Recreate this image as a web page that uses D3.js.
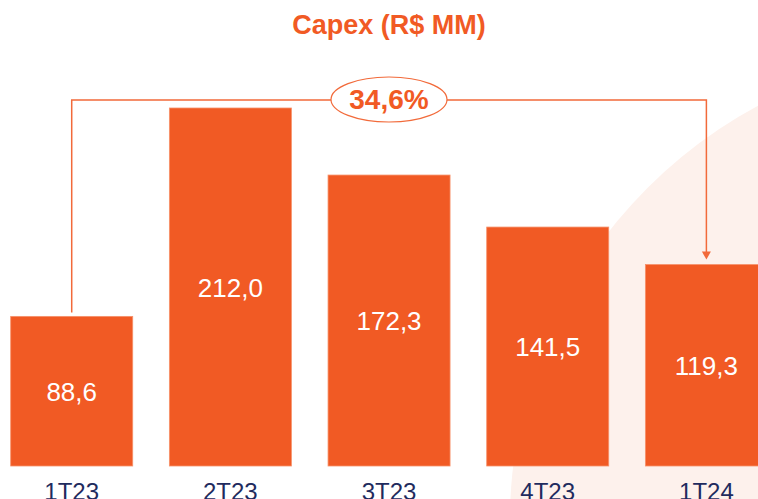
<!DOCTYPE html>
<html>
<head>
<meta charset="utf-8">
<script src="https://cdn.jsdelivr.net/npm/d3@7"></script>
<style>
  html, body { margin: 0; padding: 0; background: #fff; overflow: hidden; }
  svg { display: block; }
</style>
</head>
<body>
<svg id="chart" width="758" height="499"></svg>
<script>
const categories = ["1T23", "2T23", "3T23", "4T23", "1T24"];
const values = [88.6, 212.0, 172.3, 141.5, 119.3];
const valueLabels = ["88,6", "212,0", "172,3", "141,5", "119,3"];
const titleText = "Capex (R$ MM)";
const growthLabel = "34,6%";

const W = 758, H = 499;
const orange = "#F15A24";
const lineColor = "#F26A3A";
const navy = "#1F2B5E";

const svg = d3.select("#chart");

// light decorative background shape
svg.append("circle")
  .attr("cx", 980).attr("cy", 520).attr("r", 470)
  .attr("fill", "#FDF1EC");

const x = d3.scaleBand()
  .domain(categories)
  .range([10.7, 767.4])
  .paddingInner(0.231)
  .paddingOuter(0);

const y = d3.scaleLinear()
  .domain([0, 212])
  .range([466, 108]);

// bars
svg.append("g").selectAll("rect")
  .data(categories)
  .join("rect")
  .attr("x", d => x(d))
  .attr("y", (d, i) => y(values[i]))
  .attr("width", x.bandwidth())
  .attr("height", (d, i) => y(0) - y(values[i]))
  .attr("fill", orange)
  .attr("stroke", "#F7916A")
  .attr("stroke-width", 0.8);

// value labels
svg.append("g").selectAll("text")
  .data(categories)
  .join("text")
  .attr("x", d => x(d) + x.bandwidth() / 2)
  .attr("y", (d, i) => (y(values[i]) + y(0)) / 2 + 9.5)
  .attr("text-anchor", "middle")
  .attr("font-family", "Liberation Sans, Arial, sans-serif")
  .attr("font-size", 26)
  .attr("fill", "#fff")
  .text((d, i) => valueLabels[i]);

// category axis labels
svg.append("g").selectAll("text")
  .data(categories)
  .join("text")
  .attr("x", d => x(d) + x.bandwidth() / 2)
  .attr("y", 499.5)
  .attr("text-anchor", "middle")
  .attr("font-family", "Liberation Sans, Arial, sans-serif")
  .attr("font-size", 24)
  .attr("fill", navy)
  .text(d => d);

// title
svg.append("text")
  .attr("x", 389)
  .attr("y", 33.5)
  .attr("text-anchor", "middle")
  .attr("font-family", "Liberation Sans, Arial, sans-serif")
  .attr("font-weight", "bold")
  .attr("font-size", 27)
  .attr("fill", orange)
  .text(titleText);

// connector
const first = categories[0], last = categories[categories.length - 1];
const x1 = x(first) + x.bandwidth() / 2;
const x2 = x(last) + x.bandwidth() / 2;
const topY = 100;
const yStart = y(values[0]) - 4;
const yEnd = y(values[values.length - 1]) - 5;

svg.append("path")
  .attr("d", `M${x1},${yStart} L${x1},${topY} L${x2},${topY} L${x2},${yEnd - 7}`)
  .attr("fill", "none")
  .attr("stroke", lineColor)
  .attr("stroke-width", 1.5);

svg.append("path")
  .attr("d", `M${x2 - 4.5},${yEnd - 8} L${x2 + 4.5},${yEnd - 8} L${x2},${yEnd} Z`)
  .attr("fill", lineColor);

// ellipse badge
svg.append("ellipse")
  .attr("cx", 389).attr("cy", 99.5)
  .attr("rx", 58).attr("ry", 22.5)
  .attr("fill", "#fff")
  .attr("stroke", lineColor)
  .attr("stroke-width", 1.2);

svg.append("text")
  .attr("x", 389)
  .attr("y", 108.5)
  .attr("text-anchor", "middle")
  .attr("font-family", "Liberation Sans, Arial, sans-serif")
  .attr("font-weight", "bold")
  .attr("font-size", 28)
  .attr("fill", orange)
  .text(growthLabel);
</script>
</body>
</html>
